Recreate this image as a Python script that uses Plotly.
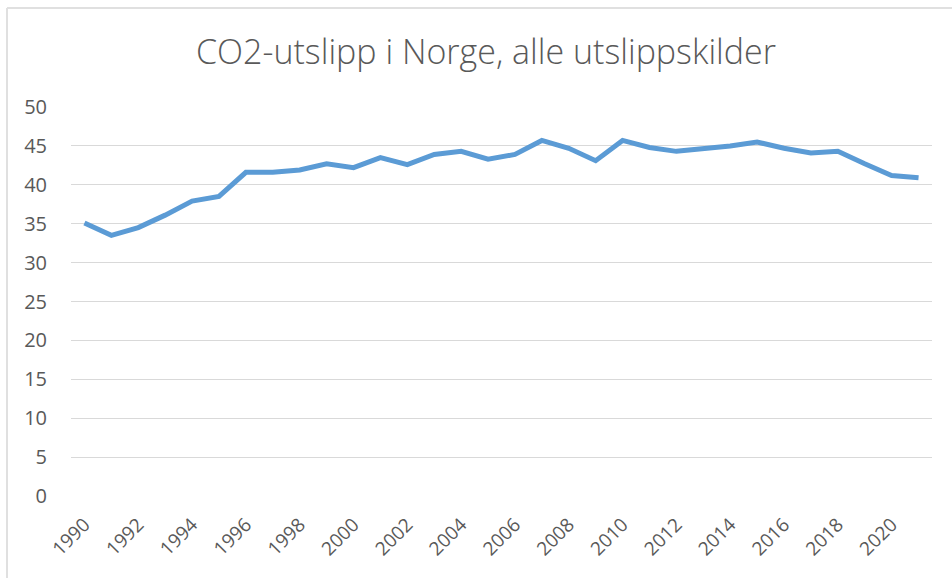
import plotly.graph_objects as go

years = list(range(1990, 2022))
emissions = [35.1, 33.5, 34.5, 36.1, 37.9, 38.5, 41.6, 41.6, 41.9, 42.7,
             42.2, 43.5, 42.6, 43.9, 44.3, 43.3, 43.9, 45.7, 44.7, 43.1,
             45.7, 44.8, 44.3, 44.6, 45.0, 45.5, 44.7, 44.1, 44.3, 42.7,
             41.2, 40.9]
tick_years = list(range(1990, 2021, 2))
tick_labels = [str(y) for y in tick_years]
y_ticks = list(range(0, 51, 5))
title_text = "CO2-utslipp i Norge, alle utslippskilder"

W, H = 952, 578
ml, mr, mt, mb = 71, 20, 107, 82
pw = W - ml - mr
ph = H - mt - mb

fig = go.Figure()
fig.add_trace(go.Scatter(
    x=years, y=emissions, mode="lines",
    line=dict(color="#5B9BD5", width=5, shape="linear"),
    hoverinfo="x+y", showlegend=False,
))

font_color = "#595959"
fam = "Open Sans, Liberation Sans, sans-serif"
fig.update_layout(
    width=W, height=H,
    margin=dict(l=ml, r=mr, t=mt, b=mb),
    paper_bgcolor="white", plot_bgcolor="white",
    font=dict(family=fam, color=font_color),
    xaxis=dict(
        range=[years[0] - 0.5, years[-1] + 0.5],
        tickmode="array", tickvals=tick_years, ticktext=tick_labels,
        tickangle=-45, showgrid=False, zeroline=False, showline=False,
        ticks="outside", ticklen=9, tickcolor="rgba(0,0,0,0)",
        tickfont=dict(size=19, color=font_color),
    ),
    yaxis=dict(
        range=[0, 50], tickmode="array", tickvals=y_ticks,
        showgrid=True, gridcolor="#D9D9D9", gridwidth=1.3,
        zeroline=False, showline=False,
        ticks="outside", ticklen=19, tickcolor="rgba(0,0,0,0)",
        tickfont=dict(size=20, color=font_color),
    ),
    shapes=[
        dict(type="line", xref="paper", yref="paper",
             x0=(7 - ml) / pw, x1=(W - ml) / pw,
             y0=1 + (mt - 8) / ph, y1=1 + (mt - 8) / ph,
             line=dict(color="#E0E0E0", width=2)),
        dict(type="line", xref="paper", yref="paper",
             x0=(7 - ml) / pw, x1=(7 - ml) / pw,
             y0=1 + (mt - 8) / ph, y1=-(mb) / ph,
             line=dict(color="#E0E0E0", width=2)),
    ],
    annotations=[
        dict(text=title_text, xref="paper", yref="paper",
             x=(485.5 - ml) / pw, y=1 + (mt - 51) / ph,
             xanchor="center", yanchor="middle", showarrow=False,
             font=dict(size=34, color=font_color, family=fam, weight=300)),
    ],
)

fig.write_html("out.html", config={"displayModeBar": False},
               post_script="document.body.style.margin='0';")
